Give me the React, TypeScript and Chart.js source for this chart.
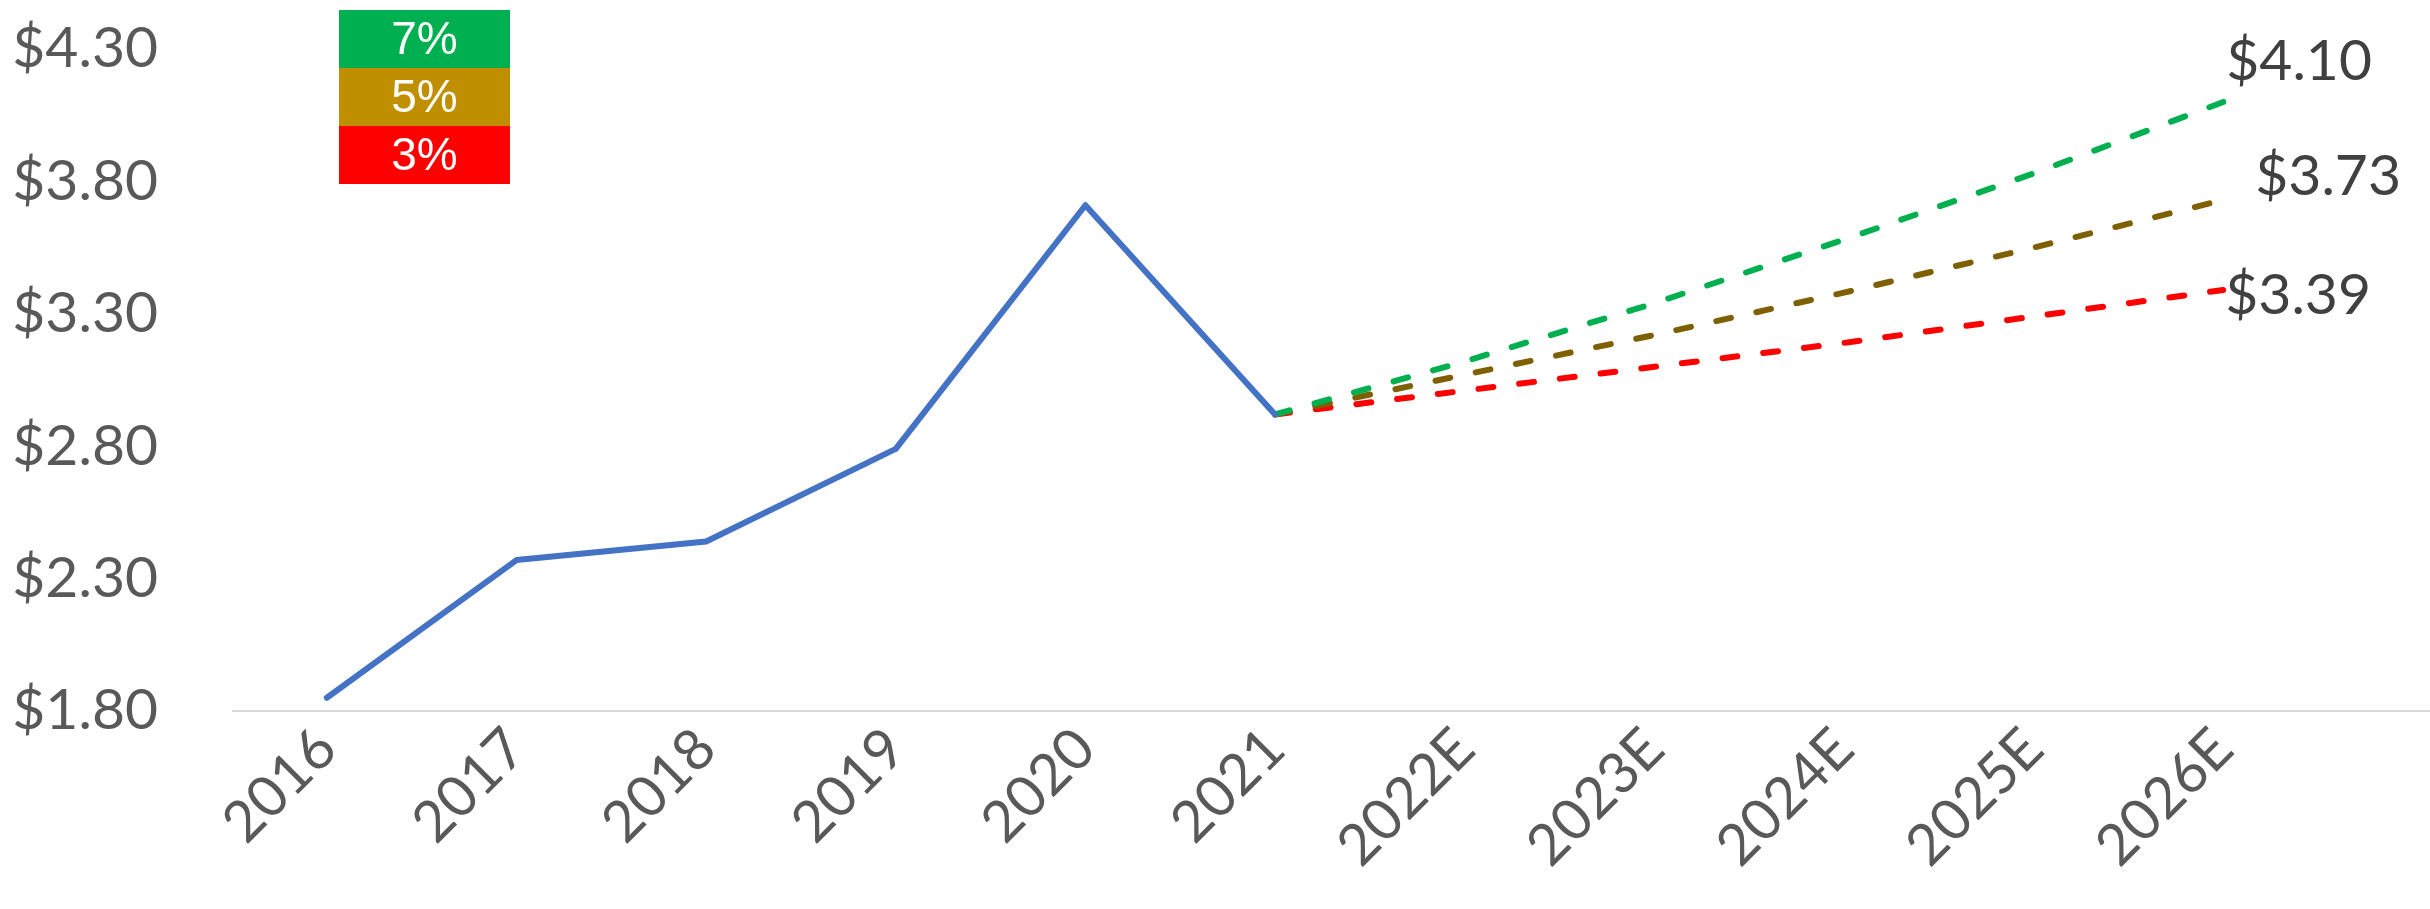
import React, { useEffect, useRef } from 'react';
import { Chart, registerables } from 'chart.js';

Chart.register(...registerables);

// Fiscal years on the horizontal axis (E = estimate)
const years = ['2016', '2017', '2018', '2019', '2020', '2021', '2022E', '2023E', '2024E', '2025E', '2026E'];

// Reported values per share, 2016-2021
const actual = [1.85, 2.37, 2.44, 2.79, 3.71, 2.92];

// Projections from 2021 onward under three growth rates
const projectionStart = 5; // index of 2021
const growth7 = [2.92, 3.12, 3.34, 3.58, 3.83, 4.10];
const growth5 = [2.92, 3.07, 3.22, 3.38, 3.55, 3.73];
const growth3 = [2.92, 3.01, 3.10, 3.19, 3.29, 3.39];

const scenarioLabels = ['7%', '5%', '3%'];
const scenarioLineColors = ['#00B050', '#7F6000', '#FF0000'];
const scenarioBoxColors = ['#00B050', '#BF8F00', '#FF0000'];

// Value axis ticks
const yTicks = [1.8, 2.3, 2.8, 3.3, 3.8, 4.3];

const AXIS_FONT = 'Lato, "Open Sans", sans-serif';

const toPoints = (values: number[], start: number) =>
  values.map((v, i) => ({ x: start + i, y: v }));

// Colored scenario key in the upper-left corner
const scenarioKey = {
  id: 'scenarioKey',
  afterDraw(chart: any) {
    const { ctx } = chart;
    const left = 339;
    const width = 171;
    const top = 10;
    const h = 58;
    ctx.save();
    scenarioLabels.forEach((label, i) => {
      ctx.fillStyle = scenarioBoxColors[i];
      ctx.fillRect(left, top + i * h, width, h);
      ctx.fillStyle = '#FFFFFF';
      ctx.font = '46px "Liberation Sans", Arial, sans-serif';
      ctx.textAlign = 'center';
      ctx.textBaseline = 'middle';
      ctx.fillText(label, left + width / 2, top + i * h + h / 2 + 2);
    });
    ctx.restore();
  },
};

// End-of-line value labels for each projection
const endLabels = {
  id: 'endLabels',
  afterDatasetsDraw(chart: any) {
    const { ctx } = chart;
    const offsets = [
      { dx: 3, dy: -40 },
      { dx: 32, dy: -23 },
      { dx: 2, dy: 6 },
    ];
    ctx.save();
    ctx.font = `57px ${AXIS_FONT}`;
    ctx.fillStyle = '#404040';
    ctx.textAlign = 'left';
    ctx.textBaseline = 'middle';
    [1, 2, 3].forEach((dsIndex, k) => {
      const meta = chart.getDatasetMeta(dsIndex);
      const ds = chart.data.datasets[dsIndex];
      const last = meta.data[meta.data.length - 1];
      const value = ds.data[ds.data.length - 1].y;
      ctx.fillText('$' + value.toFixed(2), last.x + offsets[k].dx, last.y + offsets[k].dy);
    });
    ctx.restore();
  },
};

export default function App() {
  const canvasRef = useRef<HTMLCanvasElement | null>(null);

  useEffect(() => {
    document.body.style.margin = '0';
    if (!canvasRef.current) return;

    const dashed = (values: number[], color: string, label: string) => ({
      label,
      data: toPoints(values, projectionStart),
      borderColor: color,
      backgroundColor: color,
      borderWidth: 6,
      borderDash: [15, 26],
      borderCapStyle: 'round' as const,
      pointRadius: 0,
      tension: 0,
      fill: false,
    });

    const chart = new Chart(canvasRef.current, {
      type: 'line',
      data: {
        datasets: [
          {
            label: 'Actual',
            data: toPoints(actual, 0),
            borderColor: '#4472C4',
            backgroundColor: '#4472C4',
            borderWidth: 6,
            borderJoinStyle: 'round',
            borderCapStyle: 'round',
            pointRadius: 0,
            tension: 0,
            fill: false,
          },
          dashed(growth7, scenarioLineColors[0], scenarioLabels[0]),
          dashed(growth5, scenarioLineColors[1], scenarioLabels[1]),
          dashed(growth3, scenarioLineColors[2], scenarioLabels[2]),
        ],
      },
      options: {
        animation: false,
        responsive: true,
        maintainAspectRatio: false,
        layout: { padding: { top: 49, left: 0, right: 0, bottom: 0 } },
        plugins: {
          legend: { display: false },
          tooltip: { enabled: false },
        },
        scales: {
          x: {
            type: 'linear',
            min: -0.5,
            max: 11.09,
            afterBuildTicks: (scale: any) => {
              scale.ticks = years.map((_, i) => ({ value: i }));
            },
            afterFit: (scale: any) => {
              scale.height = 198;
              scale.paddingLeft = 0;
              scale.paddingRight = 0;
            },
            grid: { display: false, drawTicks: false },
            border: { display: false },
            ticks: {
              autoSkip: false,
              minRotation: 45,
              maxRotation: 45,
              padding: 4,
              color: '#595959',
              font: { family: AXIS_FONT, size: 57 },
              callback: (v: any) => years[Math.round(Number(v))] ?? '',
            },
          },
          y: {
            min: 1.8,
            max: 4.3,
            afterBuildTicks: (scale: any) => {
              scale.ticks = yTicks.map((v) => ({ value: v }));
            },
            afterFit: (scale: any) => {
              scale.width = 232;
              scale.paddingTop = 0;
              scale.paddingBottom = 0;
            },
            grid: {
              drawTicks: false,
              lineWidth: 2,
              color: (ctx: any) => (ctx.index === 0 ? '#D9D9D9' : 'rgba(0,0,0,0)'),
            },
            border: { display: false },
            ticks: {
              padding: 74,
              color: '#595959',
              font: { family: AXIS_FONT, size: 57 },
              callback: (v: any) => '$' + Number(v).toFixed(2),
            },
          },
        },
      },
      plugins: [scenarioKey, endLabels],
    });

    return () => chart.destroy();
  }, []);

  return (
    <div style={{ position: 'relative', width: 2430, height: 909 }}>
      <canvas ref={canvasRef} />
    </div>
  );
}
